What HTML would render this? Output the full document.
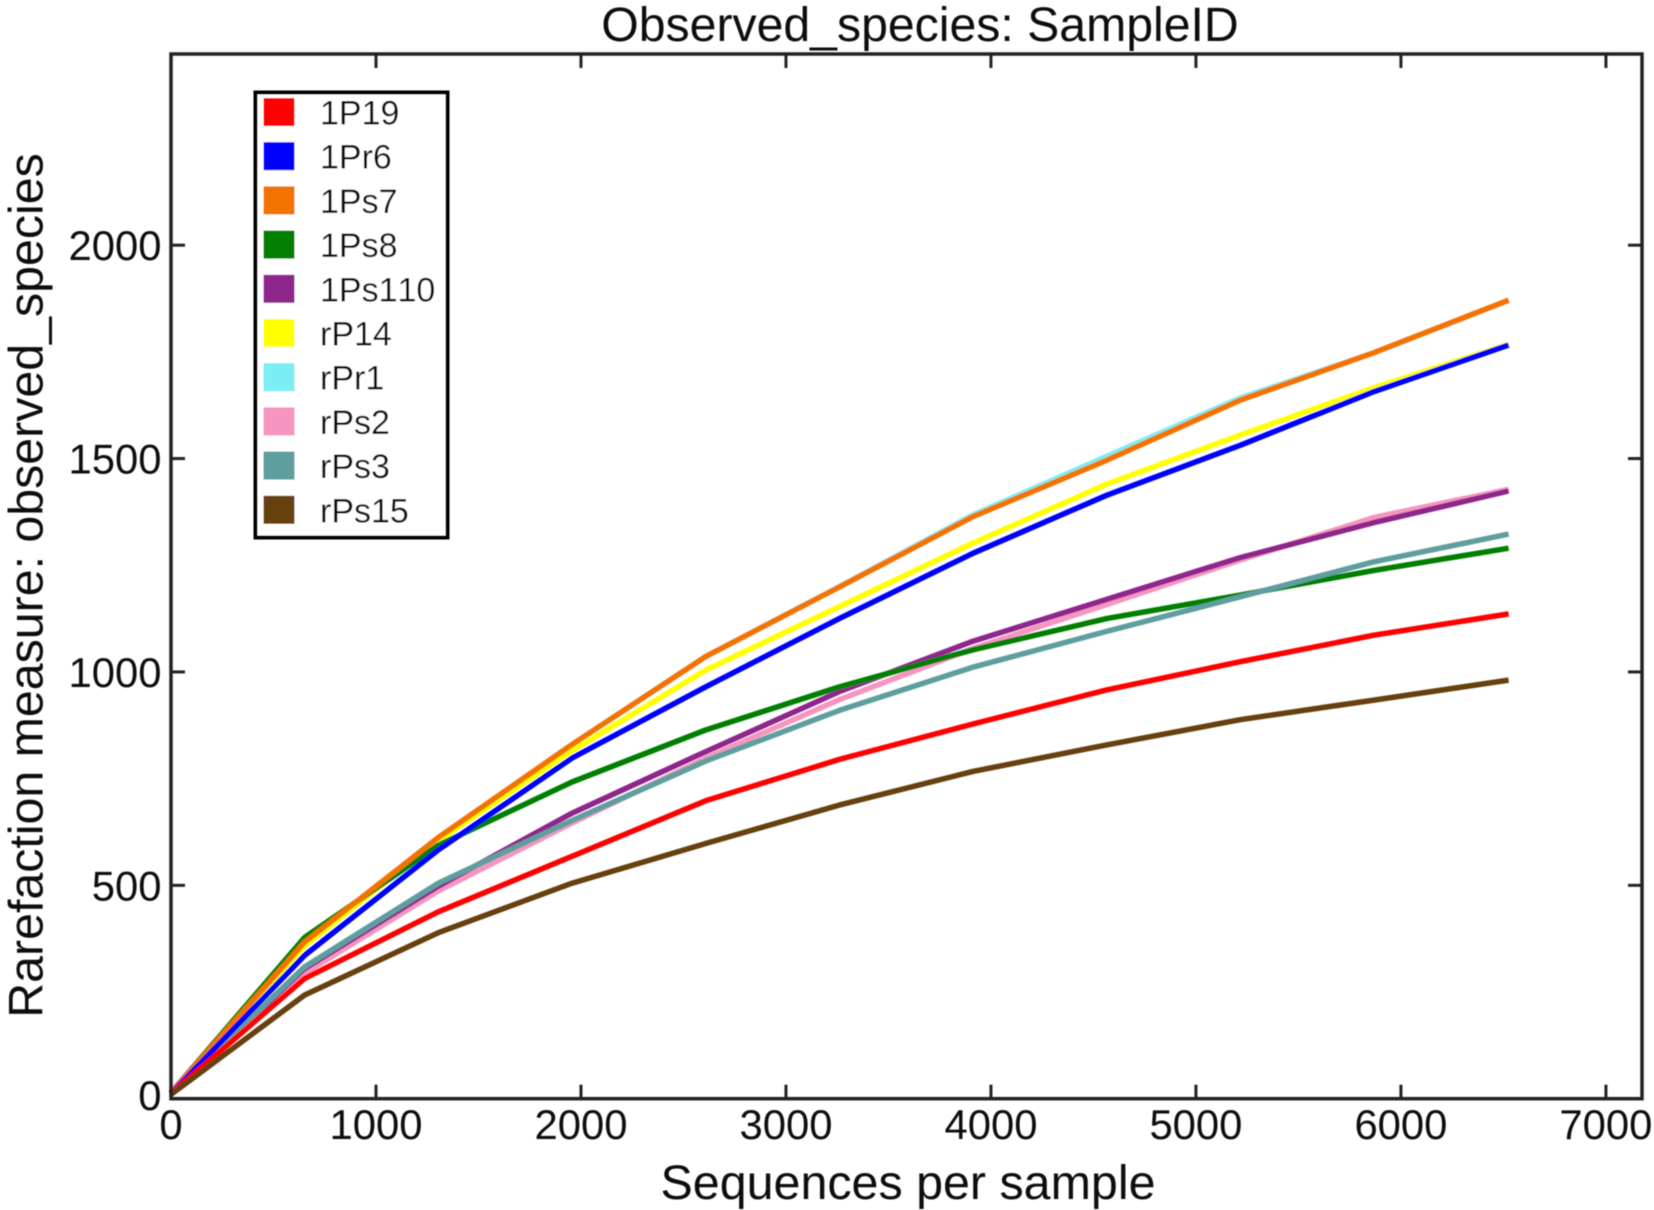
<!DOCTYPE html>
<html lang="en">
<head>
<meta charset="utf-8">
<title>Observed_species: SampleID</title>
<style>
html,body{margin:0;padding:0;background:#fff;}
svg{display:block;}
text{font-family:"Liberation Sans",Arial,sans-serif;fill:#0a0a0a;font-kerning:none;}
</style>
</head>
<body>
<svg id="chart" xmlns="http://www.w3.org/2000/svg" width="1654" height="1210" viewBox="0 0 1654 1210">
  <defs>
    <filter id="soft" x="-5%" y="-5%" width="110%" height="110%"><feGaussianBlur stdDeviation="0.6"/></filter>
    <filter id="softer" x="-5%" y="-5%" width="110%" height="110%"><feGaussianBlur stdDeviation="0.45"/></filter>
  </defs>
  <rect x="0" y="0" width="1654" height="1210" fill="#ffffff"/>
  <g filter="url(#softer)">
    <text x="920" y="41" font-size="48.2" text-anchor="middle">Observed_species: SampleID</text>
    <text x="908" y="1199" font-size="48.4" text-anchor="middle">Sequences per sample</text>
    <text transform="translate(42.5 585.5) rotate(-90)" font-size="48.3" text-anchor="middle">Rarefaction measure: observed_species</text>
  </g>
  <g id="series" filter="url(#soft)"></g>
  <g id="axes" filter="url(#softer)"></g>
  <g id="legend" filter="url(#softer)"></g>
</svg>
<script>
const depths = [0, 652, 1304, 1956, 2608, 3260, 3912, 4564, 5216, 5868, 6525];
const xTicks = [0, 1000, 2000, 3000, 4000, 5000, 6000, 7000];
const yTicks = [0, 500, 1000, 1500, 2000];
const legendLabels = ['1P19', '1Pr6', '1Ps7', '1Ps8', '1Ps110', 'rP14', 'rPr1', 'rPs2', 'rPs3', 'rPs15'];
const seriesColors = ['#ff0000', '#0000ff', '#f47304', '#007f00', '#8e268c', '#ffff00', '#7aeef2', '#f595c0', '#5f9e9e', '#66400f'];
const drawOrder = [6, 5, 7, 4, 3, 8, 2, 1, 0, 9];

const s1P19   = [12, 282, 438, 568, 698, 795, 878, 958, 1024, 1086, 1136];
const s1Pr6   = [12, 336, 583, 798, 965, 1125, 1278, 1414, 1531, 1657, 1766];
const s1Ps7   = [14, 367, 612, 830, 1036, 1199, 1364, 1496, 1637, 1748, 1871];
const s1Ps8   = [14, 378, 594, 742, 864, 965, 1052, 1125, 1180, 1238, 1290];
const s1Ps110 = [12, 305, 498, 669, 813, 954, 1072, 1170, 1268, 1350, 1424];
const srP14   = [12, 358, 605, 815, 1004, 1153, 1302, 1440, 1555, 1666, 1768];
const srPr1   = [14, 367, 612, 830, 1036, 1200, 1368, 1505, 1642, 1748, 1871];
const srPs2   = [12, 294, 487, 646, 798, 935, 1055, 1158, 1262, 1362, 1428];
const srPs3   = [12, 309, 505, 652, 791, 910, 1011, 1095, 1176, 1258, 1323];
const srPs15  = [10, 243, 389, 505, 598, 688, 767, 829, 888, 934, 981];
const allSeries = [s1P19, s1Pr6, s1Ps7, s1Ps8, s1Ps110, srP14, srPr1, srPs2, srPs3, srPs15];

const NS = 'http://www.w3.org/2000/svg';
const plotLeft = 171, plotRight = 1642, plotTop = 54, plotBottom = 1098.7;
const xMax = 7176, yMax = 2448;
const xScale = v => plotLeft + v / xMax * (plotRight - plotLeft);
const yScale = v => plotBottom - v / yMax * (plotBottom - plotTop);

const seriesGroup = document.getElementById('series');
const axesGroup = document.getElementById('axes');
const legendGroup = document.getElementById('legend');

drawOrder.forEach(i => {
  const line = document.createElementNS(NS, 'polyline');
  
  
  line.setAttribute('points', allSeries[i].map((v, k) => xScale(depths[k]).toFixed(1) + ',' + yScale(v).toFixed(1)).join(' '));
  line.setAttribute('fill', 'none');
  line.setAttribute('stroke', seriesColors[i]);
  line.setAttribute('stroke-width', '5.5');
  line.setAttribute('stroke-linejoin', 'round');
  seriesGroup.appendChild(line);
});

const frame = document.createElementNS(NS, 'rect');


frame.setAttribute('x', plotLeft);
frame.setAttribute('y', plotTop);
frame.setAttribute('width', plotRight - plotLeft);
frame.setAttribute('height', plotBottom - plotTop);
frame.setAttribute('fill', 'none');
frame.setAttribute('stroke', '#222222');
frame.setAttribute('stroke-width', '3.5');
axesGroup.appendChild(frame);

function addTick(x1, y1, x2, y2, name) {
  const t = document.createElementNS(NS, 'line');
  
  
  t.setAttribute('x1', x1);
  t.setAttribute('y1', y1);
  t.setAttribute('x2', x2);
  t.setAttribute('y2', y2);
  t.setAttribute('stroke', '#222222');
  t.setAttribute('stroke-width', '3');
  axesGroup.appendChild(t);
}

function addLabel(x, y, anchor, str, name) {
  const t = document.createElementNS(NS, 'text');
  
  
  t.setAttribute('x', x);
  t.setAttribute('y', y);
  t.setAttribute('text-anchor', anchor);
  t.setAttribute('font-size', '41.8');
  t.textContent = str;
  axesGroup.appendChild(t);
}

xTicks.forEach(v => {
  const x = xScale(v);
  if (v > 0) {
    addTick(x, plotBottom, x, plotBottom - 14, 'x-tick-bottom-' + v);
    addTick(x, plotTop, x, plotTop + 14, 'x-tick-top-' + v);
  }
  addLabel(x, 1139, 'middle', String(v), 'x-tick-label-' + v);
});

yTicks.forEach(v => {
  const y = yScale(v);
  if (v > 0) {
    addTick(plotLeft, y, plotLeft + 14, y, 'y-tick-left-' + v);
    addTick(plotRight, y, plotRight - 14, y, 'y-tick-right-' + v);
  }
  addLabel(161.5, y + (v === 0 ? 11.5 : 15), 'end', String(v), 'y-tick-label-' + v);
});

const box = document.createElementNS(NS, 'rect');


box.setAttribute('x', 255.5);
box.setAttribute('y', 92.5);
box.setAttribute('width', 192);
box.setAttribute('height', 445);
box.setAttribute('fill', '#ffffff');
box.setAttribute('stroke', '#000000');
box.setAttribute('stroke-width', '4');
legendGroup.appendChild(box);

legendLabels.forEach((label, i) => {
  const rowTop = 98 + i * 44.2;
  const swatch = document.createElementNS(NS, 'rect');
  
  
  swatch.setAttribute('x', 263.5);
  swatch.setAttribute('y', rowTop);
  swatch.setAttribute('width', 31);
  swatch.setAttribute('height', 28);
  swatch.setAttribute('fill', seriesColors[i]);
  legendGroup.appendChild(swatch);
  const t = document.createElementNS(NS, 'text');
  
  
  t.setAttribute('x', 320);
  t.setAttribute('y', rowTop + 26.5);
  t.setAttribute('font-size', '34');
  t.textContent = label;
  legendGroup.appendChild(t);
});
</script>
</body>
</html>
